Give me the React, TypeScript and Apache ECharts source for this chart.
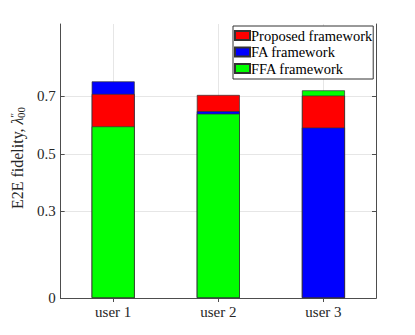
import React, { useEffect, useRef } from "react";
import * as echarts from "echarts";

const categories = ["user 1", "user 2", "user 3"];
const frameworks = ["Proposed framework", "FA framework", "FFA framework"];
const colors = ["#ff0000", "#0000ff", "#00ff00"];
const proposed = [0.7075, 0.704, 0.702];
const fa = [0.751, 0.648, 0.591];
const ffa = [0.595, 0.639, 0.72];
const yTicks = [0, 0.3, 0.5, 0.7];

const FONT = "Liberation Serif";
const AXIS_COLOR = "#4d4d4d";

export default function App() {
  const ref = useRef<HTMLDivElement>(null);
  useEffect(() => {
    if (!ref.current) return;
    const chart = echarts.init(ref.current, null, { renderer: "svg" });
    const values = [proposed, fa, ffa];
    // build overlap layers: largest value in back
    const layers: any[][] = [[], [], []];
    categories.forEach((_, ci) => {
      const order = [0, 1, 2].sort((a, b) => values[b][ci] - values[a][ci]);
      order.forEach((fi, li) => {
        layers[li].push({ value: values[fi][ci], itemStyle: { color: colors[fi] } });
      });
    });
    const barCommon = {
      type: "bar",
      barWidth: 43,
      barGap: "-100%",
      itemStyle: { borderColor: "#333", borderWidth: 0.7 },
      silent: true,
    };
    const series: any[] = [
      ...frameworks.map((name, i) => ({
        ...barCommon,
        name,
        data: [],
        itemStyle: { color: colors[i], borderColor: "#333", borderWidth: 0.7 },
      })),
      ...layers.map((d, li) => ({ ...barCommon, name: "layer" + li, data: d, z: 3 + li })),
    ];
    chart.setOption({
      animation: false,
      textStyle: { fontFamily: FONT },
      grid: { left: 54, top: 24, right: 39, bottom: 37, containLabel: false },
      legend: {
        data: frameworks,
        orient: "vertical",
        left: 233,
        top: 26,
        padding: [2, 1, 3, 1],
        itemGap: 1.5,
        itemWidth: 15,
        itemHeight: 9,
        icon: "rect",
        backgroundColor: "#fff",
        borderColor: "#333",
        borderWidth: 1,
        textStyle: { fontFamily: FONT, fontSize: 14.5, color: "#000", padding: [0, 0, 0, -4], lineHeight: 15 },
      },
      xAxis: [
        {
          type: "category",
          data: categories,
          position: "bottom",
          axisLine: { show: true, lineStyle: { color: AXIS_COLOR, width: 1 } },
          axisTick: { show: true, inside: true, alignWithLabel: true, length: 4, lineStyle: { color: AXIS_COLOR } },
          axisLabel: { fontFamily: FONT, fontSize: 15, color: "#262626", margin: 6 },
          splitLine: { show: true, alignWithLabel: true, lineStyle: { color: "#e6e6e6", width: 1 } },
        },
        {
          type: "category",
          data: categories,
          position: "top",
          axisLine: { show: true, lineStyle: { color: AXIS_COLOR, width: 1 } },
          axisTick: { show: true, inside: true, alignWithLabel: true, length: 4, lineStyle: { color: AXIS_COLOR } },
          axisLabel: { show: false },
          splitLine: { show: false },
        },
      ],
      yAxis: [
        {
          type: "value",
          min: 0,
          max: 0.95,
          position: "left",
          name: "E2E fidelity, {i|λ}{s|″}{b|00}",
          nameLocation: "middle",
          nameGap: 29,
          nameTextStyle: {
            fontFamily: FONT,
            fontSize: 16,
            color: "#262626",
            padding: [0, 0, 0, 6],
            rich: {
              i: { fontFamily: FONT, fontSize: 16, fontStyle: "italic", color: "#262626" },
              s: { fontFamily: FONT, fontSize: 11, color: "#262626", padding: [0, 0, 8, 0] },
              b: { fontFamily: FONT, fontSize: 11, color: "#262626", padding: [6, 0, 0, -5] },
            },
          },
          axisLine: { show: true, lineStyle: { color: AXIS_COLOR, width: 1 } },
          axisTick: { show: true, inside: true, length: 4, customValues: yTicks, lineStyle: { color: AXIS_COLOR } },
          axisLabel: { customValues: yTicks, fontFamily: FONT, fontSize: 15, color: "#262626", margin: 5, formatter: (v: number) => String(v) },
          splitLine: { show: true, lineStyle: { color: "#e6e6e6", width: 1 } },
        },
        {
          type: "value",
          min: 0,
          max: 0.95,
          position: "right",
          axisLine: { show: true, lineStyle: { color: AXIS_COLOR, width: 1 } },
          axisTick: { show: true, inside: true, length: 4, customValues: yTicks, lineStyle: { color: AXIS_COLOR } },
          axisLabel: { show: false, customValues: yTicks },
          splitLine: { show: false },
        },
      ],
      series,
    });
    return () => chart.dispose();
  }, []);
  return (
    <div
      ref={ref}
      style={{ position: "fixed", left: 0, top: 0, width: 415, height: 335, background: "#fff" }}
    />
  );
}
